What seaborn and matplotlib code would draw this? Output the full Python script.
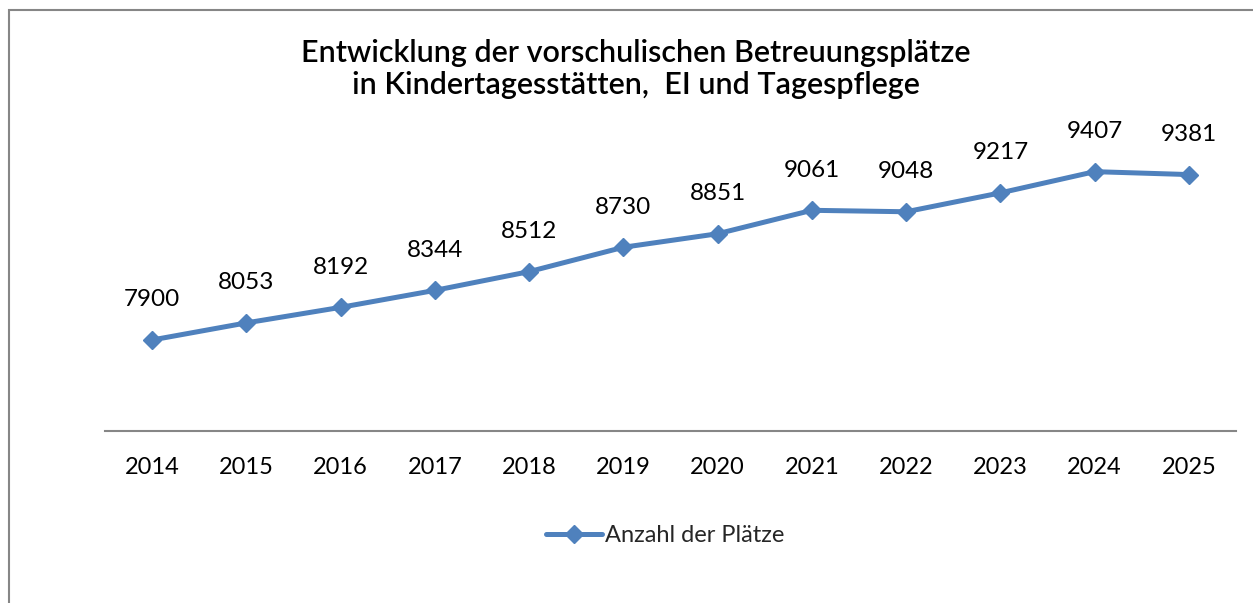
import pandas as pd
import matplotlib.pyplot as plt
import seaborn as sns
from matplotlib.lines import Line2D
from matplotlib.patches import Rectangle

# Chart data
years = ['2014', '2015', '2016', '2017', '2018', '2019',
         '2020', '2021', '2022', '2023', '2024', '2025']
places = [7900, 8053, 8192, 8344, 8512, 8730, 8851, 9061, 9048, 9217, 9407, 9381]
series_name = 'Anzahl der Plätze'
title = 'Entwicklung der vorschulischen Betreuungsplätze\nin Kindertagesstätten,  EI und Tagespflege'

blue = '#4F81BD'

sns.set_theme(style='white')
plt.rcParams['font.family'] = ['Lato', 'DejaVu Sans']

df = pd.DataFrame({'year': years, 'value': places})

W, H = 1253, 603
fig = plt.figure(figsize=(W / 100, H / 100), dpi=100)
# axes placed in pixel terms of the reference
ax = fig.add_axes([105 / W, 1 - 431 / H, (1236 - 105) / W, (431 - 130) / H])

sns.pointplot(data=df, x='year', y='value', ax=ax, errorbar=None,
              color=blue, markers='D', linestyles='-',
              linewidth=3.6, markersize=9.5, markeredgewidth=1)

ax.set_xlim(-0.5, len(years) - 0.5)
ax.set_ylim(7085, 9780)
ax.set_xlabel('')
ax.set_ylabel('')
ax.set_yticks([])
ax.tick_params(axis='x', length=0, pad=19, labelsize=17, labelcolor='black')
for side in ['top', 'right', 'left']:
    ax.spines[side].set_visible(False)
ax.spines['bottom'].set_color('#868686')
ax.spines['bottom'].set_linewidth(1.5)

# Data labels
for i, v in enumerate(places):
    ax.annotate(str(v), (i, v), xytext=(0, 40), textcoords='offset pixels',
                ha='center', va='center', fontsize=17.5, color='black')

# Title
fig.text(636 / W, 1 - 69 / H, title, ha='center', va='center',
         multialignment='center', fontsize=22, fontweight='semibold',
         color='black', linespacing=1.2)

# Legend
handle = Line2D([], [], color=blue, linewidth=3.6, marker='D',
                markersize=9.5, markeredgewidth=1)
fig.legend([handle], [series_name], loc='center',
           bbox_to_anchor=(665 / W, 1 - 536 / H), frameon=False,
           fontsize=17, handlelength=2.4, handletextpad=0.1)

# Chart frame (runs off the right and bottom edges)
fig.patches.append(Rectangle((9 / W, -0.1), 1.2, 1 - 10 / H + 0.1,
                             transform=fig.transFigure, fill=False,
                             edgecolor='#868686', linewidth=1.5))

fig.savefig('out.png', dpi=100)
